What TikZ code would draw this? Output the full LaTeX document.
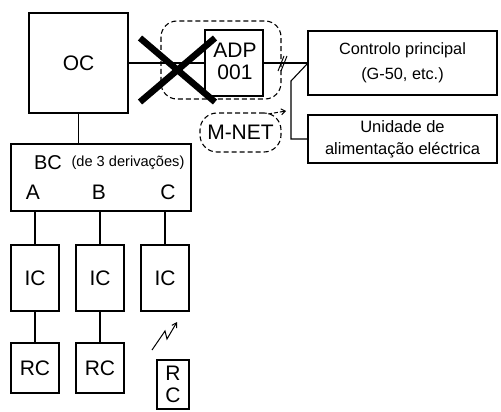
\documentclass[tikz,border=0pt]{standalone}
\usepackage{fontspec}
\setmainfont{Liberation Sans}
\usetikzlibrary{arrows.meta}
\begin{document}
\begin{tikzpicture}[x=1pt,y=-1pt,
  box/.style={draw,line width=1.1pt,rectangle,inner sep=0pt,outer sep=0pt},
  big/.style={font=\fontsize{21}{22}\selectfont},
  mid/.style={font=\fontsize{16.3}{25}\selectfont,align=center},
  wire/.style={line width=1.1pt},
  dsh/.style={line width=1.1pt,dash pattern=on 5pt off 3pt},
  cross/.style={line width=6.5pt}]
\useasboundingbox (0,0) rectangle (501,412);
% main boxes
\node[box,big,minimum width=99pt,minimum height=100pt] (OC) at (78.5,63) {OC};
\node[box,minimum width=58pt,minimum height=66pt] (ADP) at (234,63) {};
\node[big,align=center] (ADPt) at (235,61) {ADP\\001};
\node[box,mid,minimum width=189pt,minimum height=64pt] (CP) at (402.5,63) {Controlo principal\\(G-50, etc.)};
\node[box,font=\fontsize{16.5}{22}\selectfont,align=center,minimum width=189pt,minimum height=48pt] (UA) at (402.5,139) {Unidade de\\alimentação eléctrica};
\node[box,minimum width=180pt,minimum height=67pt] (BC) at (101,177.5) {};
\node[font=\fontsize{20}{22}\selectfont] (BCt) at (48,163) {BC};
\node[font=\fontsize{14.6}{16}\selectfont] (BCd) at (128,163) {(de 3 derivações)};
\node[big] (LA) at (33,192) {A};
\node[big] (LB) at (99,192) {B};
\node[big] (LC) at (168,192) {C};
% IC and RC
\node[box,big,minimum width=48pt,minimum height=66pt] (IC1) at (35,278) {IC};
\node[box,big,minimum width=48pt,minimum height=66pt] (IC2) at (100,278) {IC};
\node[box,big,minimum width=48pt,minimum height=66pt] (IC3) at (165,278) {IC};
\node[box,big,minimum width=48pt,minimum height=50pt] (RC1) at (35,368) {RC};
\node[box,big,minimum width=48pt,minimum height=50pt] (RC2) at (100,368) {RC};
\node[box,big,align=center,minimum width=32pt,minimum height=49pt] (RC3) at (173,384.5) {R\\C};
% connectors
\draw[wire] (OC.east) -- (ADP.west);
\draw[wire] (ADP.east) -- (CP.west);
\coordinate (k) at (291,81);
\draw[wire] (CP.west) -- (k) |- (UA.west);
\draw[wire] (OC.south) -- (OC.south |- BC.north);
\draw[wire] (IC1.north) -- (IC1.north |- BC.south);
\draw[wire] (IC2.north) -- (IC2.north |- BC.south);
\draw[wire] (IC3.north) -- (IC3.north |- BC.south);
\draw[wire] (IC1.south) -- (RC1.north);
\draw[wire] (IC2.south) -- (RC2.north);
% double slash
\draw[line width=1pt] (278,71) -- (284,56);
\draw[line width=1pt] (281,71) -- (287,56);
% dashed enclosure
\draw[dsh,rounded corners=16pt] (161,21) rectangle (281,99);
% cross
\draw[cross] (140,38) -- (215,102);
\draw[cross] (215,38) -- (140,102);
% M-NET
\node[dsh,draw,rounded corners=17pt,minimum width=81pt,minimum height=39pt,big,inner sep=0pt] (MN) at (240.5,132.5) {M-NET};
\coordinate (mn) at (286,111);
\draw[line width=1pt,dash pattern=on 4pt off 2pt,-{Straight Barb[length=4pt,width=6pt]}] (268,114) -- (mn);
% wireless
\draw[line width=1pt,-{Straight Barb[length=4.5pt,width=5.5pt]}] (152,350) -- (165,331) -- (167,339) -- (177,322);
\end{tikzpicture}
\end{document}
